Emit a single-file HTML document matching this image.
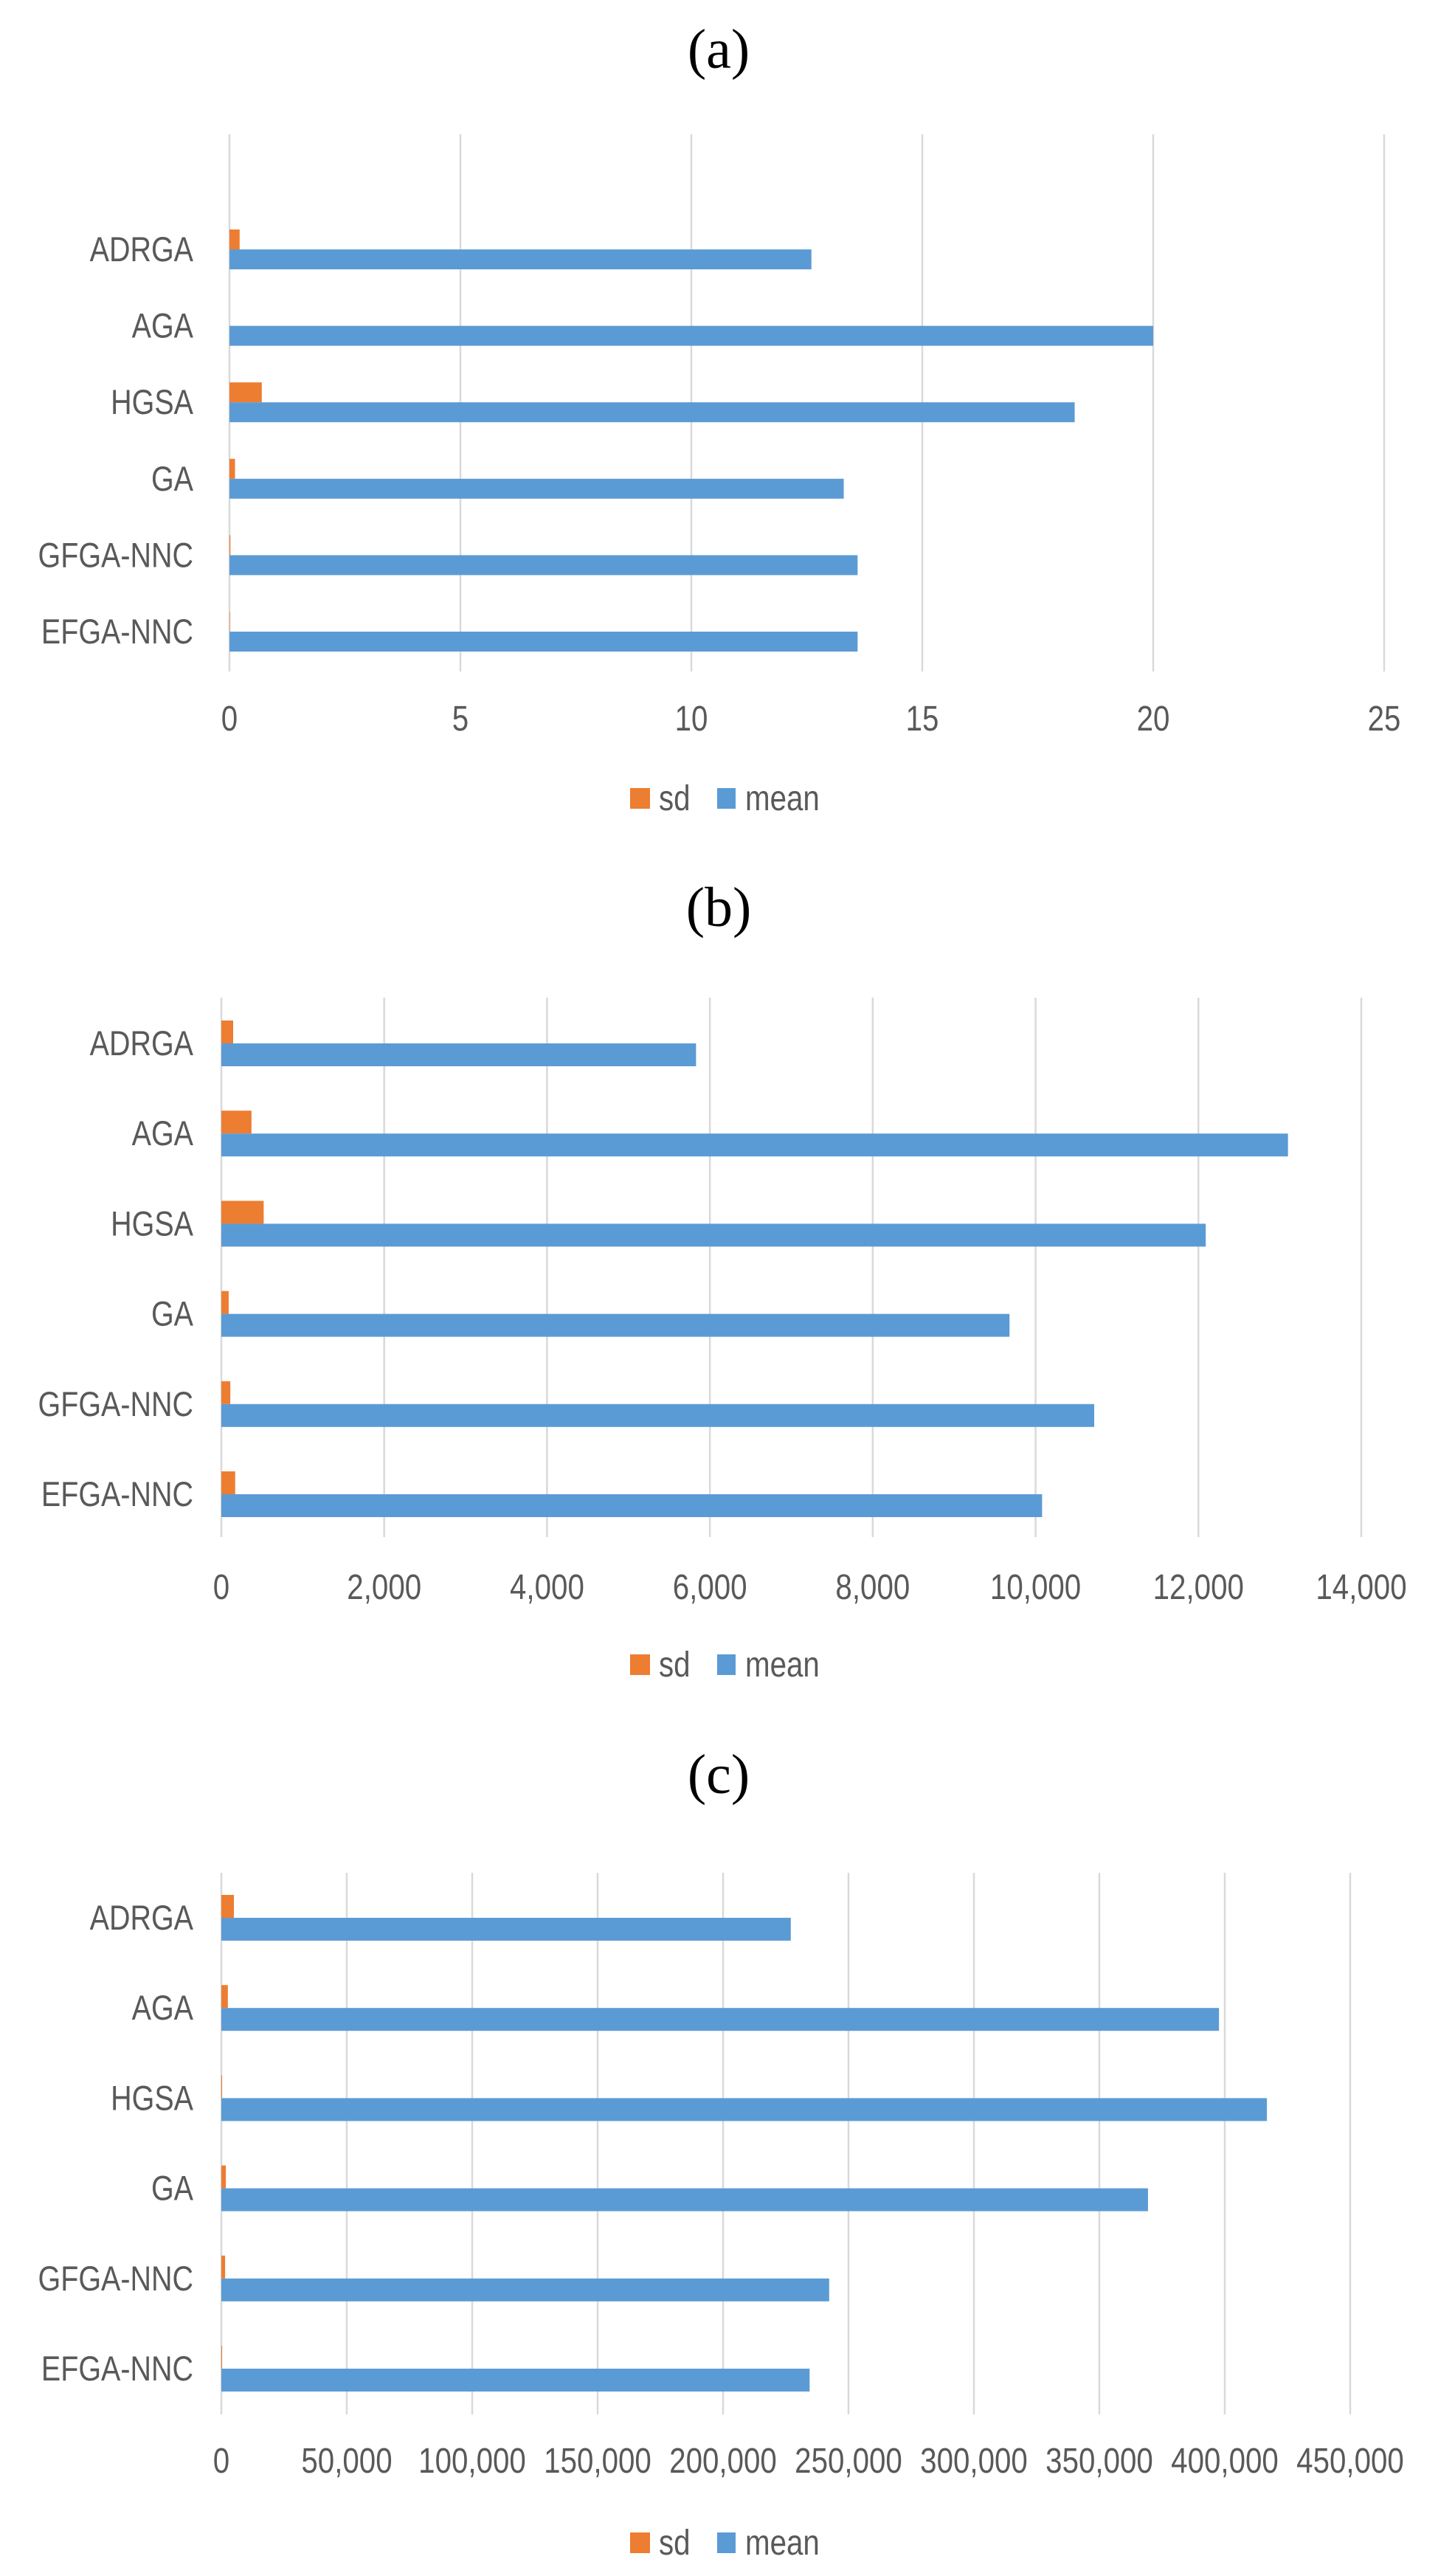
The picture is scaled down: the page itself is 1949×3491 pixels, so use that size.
<!DOCTYPE html>
<html><head><meta charset="utf-8"><style>
html,body{margin:0;padding:0;background:#fff;}
svg{display:block;}
text{font-family:"Liberation Sans",sans-serif;fill:#595959;}
</style></head><body>
<svg id="fig" width="1949" height="3491" viewBox="0 0 1949 3491" xmlns="http://www.w3.org/2000/svg"></svg>
<script>
const categories = ["ADRGA","AGA","HGSA","GA","GFGA-NNC","EFGA-NNC"];
const meanA = [12.6, 20.0, 18.3, 13.3, 13.6, 13.6];
const sdA = [0.22, 0, 0.7, 0.12, 0.02, 0.01];
const ticksA = [0,5,10,15,20,25];
const tickLabelsA = ["0","5","10","15","20","25"];
const meanB = [5830, 13100, 12090, 9680, 10720, 10080];
const sdB = [145, 370, 520, 90, 110, 170];
const ticksB = [0,2000,4000,6000,8000,10000,12000,14000];
const tickLabelsB = ["0","2,000","4,000","6,000","8,000","10,000","12,000","14,000"];
const meanC = [227000, 397700, 416800, 369400, 242300, 234500];
const sdC = [5000, 2600, 300, 1800, 1500, 300];
const ticksC = [0,50000,100000,150000,200000,250000,300000,350000,400000,450000];
const tickLabelsC = ["0","50,000","100,000","150,000","200,000","250,000","300,000","350,000","400,000","450,000"];

const NS = "http://www.w3.org/2000/svg";
const svg = document.getElementById('fig');
function mk(tag, attrs, parent){
  const e = document.createElementNS(NS, tag);
  for (const k in attrs) e.setAttribute(k, attrs[k]);
  (parent||svg).appendChild(e);
  return e;
}
function txt(parent, x, y, size, anchor, str){
  const e = mk('text', {transform:'translate('+x+','+y+') scale(0.84,1)', x:0, y:0, 'text-anchor':anchor, 'font-size':size}, parent);
  e.textContent = str;
  return e;
}
const panels = [
  {id:'a', title:'(a)', titleY:92, mean:meanA, sd:sdA, ticks:ticksA, labels:tickLabelsA, max:25,
   x0:311, x1:1876, gTop:182, gBot:910, first:338, step:103.6, bh:27, tickY:990, legY:1082},
  {id:'b', title:'(b)', titleY:1255, mean:meanB, sd:sdB, ticks:ticksB, labels:tickLabelsB, max:14000,
   x0:300, x1:1845, gTop:1352, gBot:2083, first:1414, step:122.2, bh:31, tickY:2167, legY:2256},
  {id:'c', title:'(c)', titleY:2430, mean:meanC, sd:sdC, ticks:ticksC, labels:tickLabelsC, max:450000,
   x0:300, x1:1830, gTop:2538, gBot:3272, first:2599, step:122.2, bh:31, tickY:3351, legY:3446}
];
panels.forEach(p=>{
  const g = mk('g', {});
  
  
  const xs = v => p.x0 + (v / p.max) * (p.x1 - p.x0);
  const t = mk('text', {x:974, y:p.titleY, 'text-anchor':'middle', 'font-size':'76'}, g);
  t.style.fontFamily = '"Liberation Serif", serif';
  t.style.fill = '#000';
  t.textContent = p.title;
  
  
  p.ticks.forEach((v,i)=>{
    const x = xs(v);
    const ln = mk('line', {x1:x, x2:x, y1:p.gTop, y2:p.gBot, stroke:'#d9d9d9', 'stroke-width':'2.5'}, g);
    
    
    const tl = txt(g, x, p.tickY, 48, 'middle', p.labels[i]);
    
    
  });
  categories.forEach((c,i)=>{
    const yc = p.first + i * p.step;
    const lab = txt(g, 262, yc+16, 47, 'end', c);
    
    
    const sdW = Math.max(0, xs(p.sd[i]) - p.x0);
    const rs = mk('rect', {x:p.x0, y:yc - p.bh, width:sdW, height:p.bh, fill:'#ED7D31'}, g);
    
    
    const rm = mk('rect', {x:p.x0, y:yc, width:xs(p.mean[i]) - p.x0, height:p.bh, fill:'#5B9BD5'}, g);
    
    
  });
  const lg = mk('g', {}, g);
  
  
  mk('rect', {x:854, y:p.legY-14, width:27, height:28, fill:'#ED7D31'}, lg);
  txt(lg, 893, p.legY+16, 48, 'start', 'sd');
  mk('rect', {x:972, y:p.legY-14, width:25, height:28, fill:'#5B9BD5'}, lg);
  txt(lg, 1010, p.legY+16, 48, 'start', 'mean');
});
</script>
</body></html>
